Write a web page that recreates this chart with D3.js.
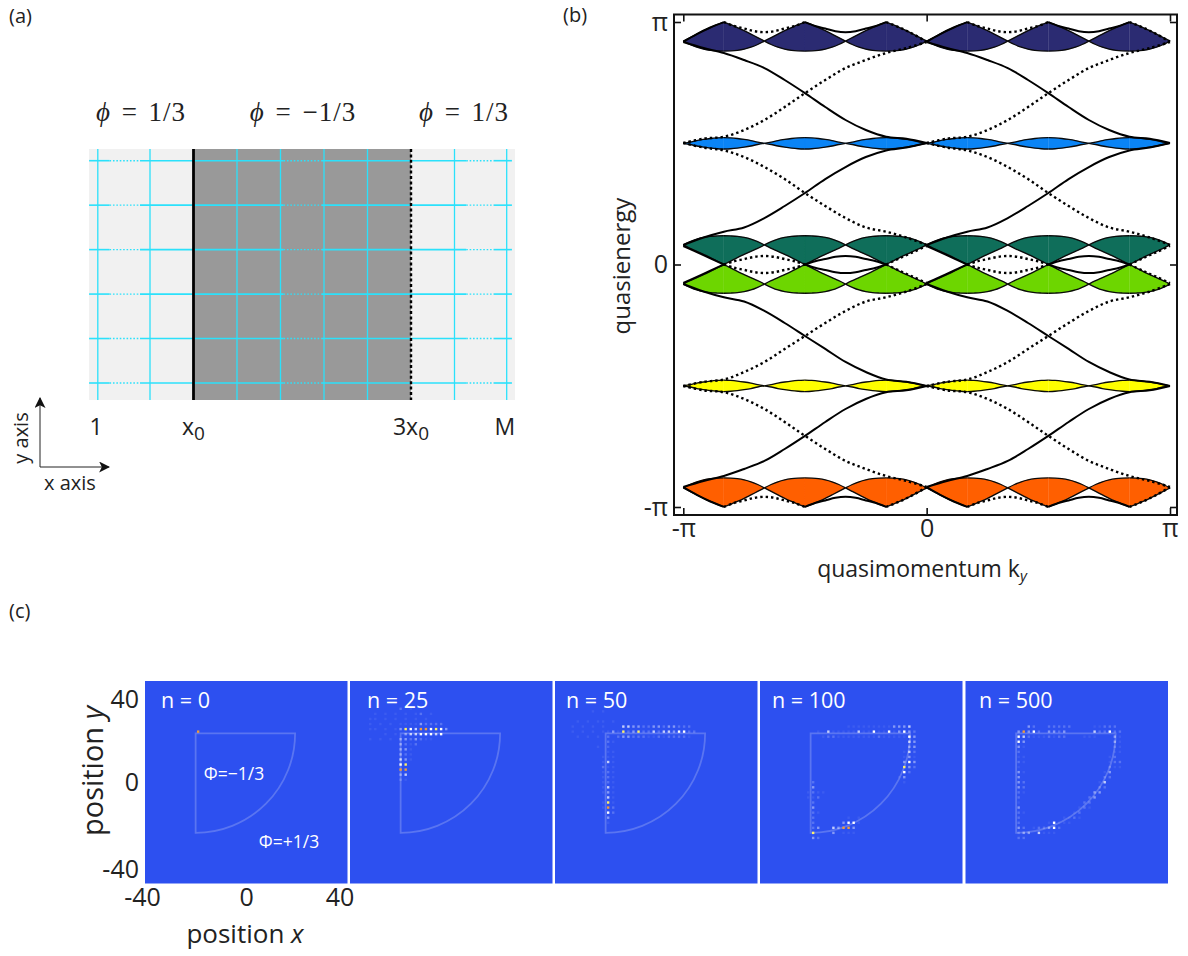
<!DOCTYPE html>
<html><head><meta charset="utf-8">
<script src="https://cdn.jsdelivr.net/npm/d3@7/dist/d3.min.js"></script>
<style>html,body{margin:0;padding:0;background:#fff}svg{display:block}
text{font-family:"Open Sans",sans-serif;fill:#222}</style></head><body>
<script>
// ---------- panel (b) data: energies ----------
const pi = Math.PI;
// half an arch of each band, node -> mid point of the period
const navyUpper=[2.895,2.94,2.985,3.03,3.07,3.107,3.14];
const navyLower=[2.895,2.85,2.815,2.79,2.775,2.768,2.765];
const blueUpper=[1.57,1.585,1.605,1.62,1.632,1.64,1.643];
const blueLower=[1.57,1.555,1.535,1.52,1.508,1.5,1.496];
const tealUpper=[0.253,0.295,0.33,0.352,0.365,0.37,0.372];
const tealLower=[0.253,0.21,0.17,0.13,0.09,0.045,0];
const limeUpper=[-0.253,-0.21,-0.17,-0.13,-0.09,-0.045,0];
const limeLower=[-0.253,-0.295,-0.33,-0.352,-0.365,-0.37,-0.372];
const yellowUpper=[-1.572,-1.557,-1.537,-1.522,-1.51,-1.502,-1.498];
const yellowLower=[-1.572,-1.587,-1.607,-1.622,-1.634,-1.642,-1.647];
const orangeUpper=[-2.895,-2.85,-2.815,-2.79,-2.775,-2.768,-2.765];
const orangeLower=[-2.895,-2.94,-2.985,-3.03,-3.07,-3.107,-3.14];
const bandColors=["#2b2b72","#0a84f5","#0f6e5a","#6dd600","#ffff00","#ff5f00"];
const bandUppers=[navyUpper,blueUpper,tealUpper,limeUpper,yellowUpper,orangeUpper];
const bandLowers=[navyLower,blueLower,tealLower,limeLower,yellowLower,orangeLower];
// edge modes on a half zone, -pi -> 0, 13 samples
const solidTopGap=[2.882,2.804,2.74,2.649,2.545,2.39,2.22,2.04,1.872,1.742,1.655,1.63,1.574];
const solidMidUp=[0.253,0.35,0.425,0.48,0.602,0.758,0.926,1.107,1.263,1.392,1.478,1.515,1.574];
const solidMidDown=[-0.253,-0.35,-0.425,-0.48,-0.602,-0.758,-0.926,-1.094,-1.263,-1.393,-1.49,-1.52,-1.574];
const solidBottomGap=[-2.882,-2.804,-2.74,-2.649,-2.545,-2.39,-2.22,-2.04,-1.872,-1.742,-1.655,-1.63,-1.574];
const dottedTopGap=[1.574,1.63,1.655,1.742,1.872,2.04,2.22,2.39,2.545,2.649,2.74,2.804,2.882];
const dottedMidUp=[1.574,1.515,1.478,1.392,1.263,1.107,0.926,0.758,0.602,0.48,0.425,0.35,0.253];
const dottedMidDown=[-1.574,-1.52,-1.49,-1.393,-1.263,-1.094,-0.926,-0.758,-0.602,-0.48,-0.425,-0.35,-0.253];
const dottedBottomGap=[-1.574,-1.63,-1.655,-1.742,-1.872,-2.04,-2.22,-2.39,-2.545,-2.649,-2.74,-2.804,-2.882];
// little arcs between two cusps, cusp -> middle
const arcTop=[3.14,3.09,3.057,3.023,3.01];
const arcUp=[0,0.042,0.07,0.099,0.11];
const arcDown=[0,-0.042,-0.07,-0.099,-0.11];
const arcBottom=[-3.14,-3.09,-3.057,-3.023,-3.01];
// modes hugging the cusp edges, node -> cusp
const hugTop=[2.885,2.985,3.07,3.14];
const hugTeal=[0.24,0.16,0.08,0];
const hugLime=[-0.24,-0.16,-0.08,0];
const hugBottom=[-2.885,-2.985,-3.07,-3.14];
const piTicks=[-pi,0,pi];
const kTickLabels=["-π","0","π"];
const eTickLabels=["-π","0","π"];

// ---------- panel (a) data ----------
const phiLabels=["1/3","−1/3","1/3"];
const latticeCols=[-2.2,-1,1,2,3,4,6,7.2];
const latticeRows=[0,1,2,3,4,5];
const dottedSpans=[[-1.93,-1.23],[2.07,2.95],[6.27,6.9]];
const solidSpans=[[-2.4,-1.93],[-1.23,2.07],[2.95,6.27],[6.9,7.32]];
const siteLabels=[[-2.24,"1",""],[0,"x","0"],[5,"3x","0"],[7.16,"M",""]];

// ---------- panel (c) data: [y, first x, levels along x in steps of 2] ----------
const panelNames=["n = 0","n = 25","n = 50","n = 100","n = 500"];
const panelLefts=[145,350,555,760,965.5];
const panelNameX=[161,367,566,772,979];
const n0=[[20,-19,"7"]];
const n25=[[29,-20,"2010"],[27,-30,"1010101012010"],[25,-32,"1101010101010"],[23,-32,"101010111"],[23,-14,"132222"],[21,-32,"110101"],[19,-26,"1010"],[17,-32,"10101"],
[21,-20,"3654775653"],[19,-18,"34455545"],[17,-20,"3323211"],[15,-20,"3212"],[13,-20,"331"],[11,-20,"321"],[9,-20,"431"],[7,-20,"56"],[5,-20,"77"],[3,-20,"34"],[1,-20,"21"]];
const n50=[[30,-19,"1"],[28,-25,"1010"],[24,-31,"10101"],[24,-21,"1010"],[22,-33,"1010101"],[20,-33,"1010101"],[18,-31,"10101"],[14,-23,"101"],
[22,-13,"44332233233222"],[20,-19,"131623622424435522"],[18,-19,"20233222112122221"],
[16,-21,"021"],[14,-21,"010"],[12,-21,"011"],[10,-21,"111"],[8,-21,"141"],[6,-21,"211"],[4,-21,"121"],[2,-21,"121"],[0,-21,"121"],[-2,-21,"141"],[-4,-21,"131"],[-6,-21,"041"],[-8,-21,"161"],[-10,-21,"172"],[-12,-21,"052"],[-14,-21,"030"],[-16,-21,"010"]];
const n100=[[22,-5,"1111111113334"],[20,-19,"010411111411511513532"],[18,-15,"1221111111121111153"],
[16,17,"043"],[14,17,"033"],[12,17,"142"],[10,17,"131"],[8,17,"353"],[6,17,"632"],[4,17,"52"],[2,15,"13"],[0,17,"1"],
[0,-21,"02"],[-2,-21,"03"],[-4,-21,"1211"],[-6,-21,"112"],[-8,-21,"02"],[-10,-21,"03"],[-12,-21,"021"],[-14,-21,"02"],[-16,-21,"02"],[-18,-21,"023"],[-20,-21,"06"],[-22,-21,"032"],
[-14,-5,"101"],[-16,-7,"3551"],[-18,-11,"43773"],[-20,-11,"30111"]];
const n500=[[22,-19,"00320022222000011222"],[20,-19,"373520332300000422522"],[18,-19,"542111212200011100031"],
[16,-19,"53"],[16,19,"31"],[14,-19,"31"],[14,19,"21"],[12,-19,"2"],[12,19,"11"],[10,-19,"11"],[10,17,"12"],[8,-19,"21"],[8,17,"122"],
[6,-19,"1"],[6,17,"211"],[4,-19,"31"],[4,15,"13"],[2,-19,"3"],[2,15,"22"],[0,-19,"32"],[0,13,"14"],[-2,-19,"32"],[-2,13,"22"],
[-4,-19,"21"],[-4,11,"33"],[-6,-19,"2"],[-6,9,"23"],[-8,-19,"1"],[-8,7,"22"],[-10,-19,"3"],[-10,5,"121"],[-12,-19,"21"],[-12,3,"12"],
[-14,-19,"2"],[-14,-1,"1121"],[-16,-19,"2"],[-16,-7,"15111"],[-18,-19,"32"],[-18,-13,"122352"],[-20,-19,"23304111"],[-22,-19,"22"]];
const panelRows=[n0,n25,n50,n100,n500];
const levelColors=["none","rgba(255,255,255,.07)","rgba(255,255,255,.2)","rgba(255,255,255,.42)","rgba(255,255,255,.72)","#ffffff","#fff06a","#ef9c3c"];
const posTicks=[-40,0,40];
const posTickLabels=["-40","0","40"];

// ---------- drawing ----------
const svg=d3.select("body").append("svg").attr("width",1188).attr("height",956);
const txt=(x,y,s,size,anchor)=>svg.append("text").attr("x",x).attr("y",y).attr("font-size",size).attr("text-anchor",anchor||"middle").text(s);
txt(9,23,"(a)",20,"start");txt(563,22,"(b)",20,"start");txt(9,618,"(c)",20,"start");

// panel (a)
const ax=d3.scaleLinear().domain([0,5]).range([193.5,411]);
const ay=d3.scalePoint().domain(latticeRows).range([160.7,383]);
const pa=svg.append("g");
pa.append("rect").attr("x",89).attr("y",149).attr("width",426).attr("height",251).attr("fill","#f1f1f1");
pa.append("rect").attr("x",ax(0)).attr("y",149).attr("width",ax(5)-ax(0)).attr("height",251).attr("fill","#999999");
const cyan="#2be1fb";
pa.selectAll(".vl").data(latticeCols).join("line").attr("x1",d=>ax(d)).attr("x2",d=>ax(d)).attr("y1",149).attr("y2",400).attr("stroke",cyan).attr("stroke-width",1.3);
latticeRows.forEach(r=>{
  pa.selectAll(null).data(solidSpans).join("line").attr("x1",d=>ax(d[0])).attr("x2",d=>ax(d[1])).attr("y1",ay(r)).attr("y2",ay(r)).attr("stroke",cyan).attr("stroke-width",1.6);
  pa.selectAll(null).data(dottedSpans).join("line").attr("x1",d=>ax(d[0])).attr("x2",d=>ax(d[1])).attr("y1",ay(r)).attr("y2",ay(r)).attr("stroke",cyan).attr("stroke-width",1.4).attr("stroke-dasharray","1.6 1.8");
});
pa.append("line").attr("x1",ax(0)).attr("x2",ax(0)).attr("y1",149).attr("y2",400).attr("stroke","#000").attr("stroke-width",2.8);
pa.append("line").attr("x1",ax(5)).attr("x2",ax(5)).attr("y1",149).attr("y2",400).attr("stroke","#000").attr("stroke-width",2.4).attr("stroke-dasharray","3 2.4");
[141,303,464].forEach((cx,i)=>{
  const t=svg.append("text").attr("x",cx).attr("y",121).attr("text-anchor","middle").attr("font-size",27).style("letter-spacing","1px").style("word-spacing","3px").style("font-family","'Liberation Serif',serif");
  t.append("tspan").attr("font-style","italic").text("ϕ");
  t.append("tspan").text(" = "+phiLabels[i]);
});
siteLabels.forEach(d=>{
  const t=svg.append("text").attr("x",ax(d[0])).attr("y",435).attr("text-anchor","middle").attr("font-size",23);
  t.append("tspan").text(d[1]);
  if(d[2])t.append("tspan").attr("dy",5).attr("font-size",19).text(d[2]);
});
const defs=svg.append("defs");
defs.append("marker").attr("id","ah").attr("viewBox","0 0 10 10").attr("refX",9).attr("refY",5).attr("markerWidth",11).attr("markerHeight",11).attr("markerUnits","userSpaceOnUse").attr("orient","auto")
  .append("path").attr("d","M0,0L10,5L0,10L2.5,5Z").attr("fill","#111");
svg.append("line").attr("x1",40).attr("y1",467).attr("x2",40).attr("y2",398).attr("stroke","#222").attr("stroke-width",1).attr("marker-end","url(#ah)");
svg.append("line").attr("x1",40).attr("y1",467).attr("x2",109).attr("y2",467).attr("stroke","#222").attr("stroke-width",1).attr("marker-end","url(#ah)");
svg.append("text").attr("transform","translate(28,438) rotate(-90)").attr("text-anchor","middle").attr("font-size",20).text("y axis");
txt(70,490,"x axis",20);

// panel (b)
const kx=d3.scaleLinear().domain([-pi,pi]).range([683.3,1170]);
const ey=d3.scaleLinear().domain([-pi,pi]).range([507,22]);
const box={l:674,r:1177,t:14.5,b:515};
const pb=svg.append("g");
const halfK=pi/6;
bandColors.forEach((col,bi)=>{
  const up=bandUppers[bi],lo=bandLowers[bi],n=up.length-1;
  for(let s=0;s<12;s++){
    const pts=d3.range(n+1).map(i=>{
      const j=s%2===0?i:n-i;
      return {k:-pi+s*halfK+i/n*halfK,u:up[j],l:lo[j]};
    });
    pb.append("path").datum(pts).attr("d",d3.area().x(d=>kx(d.k)).y0(d=>ey(d.l)).y1(d=>ey(d.u)).curve(d3.curveMonotoneX)).attr("fill",col).attr("stroke",col).attr("stroke-width",.3);
    [d=>ey(d.u),d=>ey(d.l)].forEach(fy=>{
      pb.append("path").datum(pts).attr("d",d3.line().x(d=>kx(d.k)).y(fy).curve(d3.curveMonotoneX)).attr("fill","none").attr("stroke","#0a0a0a").attr("stroke-width",1.35);
    });
  }
});
const solidStyle=p=>p.attr("fill","none").attr("stroke","#000").attr("stroke-width",2);
const dottedStyle=p=>p.attr("fill","none").attr("stroke","#000").attr("stroke-width",2.4).attr("stroke-dasharray","2.4 3");
const curve=(vals,k0,k1,style,ctype)=>{
  const n=vals.length-1;
  const pts=vals.map((v,i)=>[kx(k0+(k1-k0)*i/n),ey(v)]);
  style(pb.append("path").attr("d",d3.line().curve(ctype||d3.curveCatmullRom)(pts)));
};
[-pi,0].forEach(off=>{
  [solidTopGap,solidMidUp,solidMidDown,solidBottomGap].forEach(v=>curve(v,off,off+pi,solidStyle));
  [dottedTopGap,dottedMidUp,dottedMidDown,dottedBottomGap].forEach(v=>curve(v,off,off+pi,dottedStyle));
  [arcTop,arcUp,arcDown,arcBottom].forEach(a=>{
    const whole=a.concat(a.slice(0,-1).reverse());
    curve(whole,off+halfK,off+3*halfK,dottedStyle);
    curve(whole,off+3*halfK,off+5*halfK,solidStyle);
  });
  [hugTop,hugTeal,hugLime,hugBottom].forEach(v=>{
    curve(v,off,off+halfK,solidStyle);
    curve(v.slice().reverse(),off+5*halfK,off+6*halfK,dottedStyle);
  });
});
pb.append("rect").attr("x",box.l).attr("y",box.t).attr("width",box.r-box.l).attr("height",box.b-box.t).attr("fill","none").attr("stroke","#111").attr("stroke-width",2);
const styleAxis=g=>{g.select(".domain").remove();g.selectAll("line").attr("stroke","#111").attr("stroke-width",1.6);g.selectAll("text").attr("font-size",25).attr("fill","#222");};
pb.append("g").attr("transform",`translate(0,${box.b})`).call(d3.axisBottom(kx).tickValues(piTicks).tickSizeInner(-7).tickSizeOuter(0).tickPadding(4).tickFormat((d,i)=>kTickLabels[i])).call(styleAxis);
pb.append("g").attr("transform",`translate(0,${box.t})`).call(d3.axisTop(kx).tickValues(piTicks).tickSizeInner(-7).tickSizeOuter(0).tickFormat("")).call(styleAxis);
pb.append("g").attr("transform",`translate(${box.l},0)`).call(d3.axisLeft(ey).tickValues(piTicks).tickSizeInner(-7).tickSizeOuter(0).tickPadding(6).tickFormat((d,i)=>eTickLabels[i])).call(styleAxis);
pb.append("g").attr("transform",`translate(${box.r},0)`).call(d3.axisRight(ey).tickValues(piTicks).tickSizeInner(-7).tickSizeOuter(0).tickFormat("")).call(styleAxis);
const kl=txt(922,577,"quasimomentum k",23);
kl.append("tspan").attr("dy",4).attr("font-size",15).attr("font-style","italic").text("y");
svg.append("text").attr("transform","translate(630,266) rotate(-90)").attr("text-anchor","middle").attr("font-size",24).text("quasienergy");

// panel (c)
const panelSize=202.5,panelTop=681;
const py=d3.scaleLinear().domain([40,-40]).range([panelTop,panelTop+panelSize]);
panelRows.forEach((rows,pi_)=>{
  const left=panelLefts[pi_];
  const px=d3.scaleLinear().domain([-40,40]).range([left,left+panelSize]);
  const g=svg.append("g");
  g.append("rect").attr("x",left).attr("y",panelTop).attr("width",panelSize).attr("height",panelSize).attr("fill","#2d50f0");
  const c=d3.path(),cx=px(-20),cy=py(19.3),rr=px(19.3)-px(-20);
  c.moveTo(cx,cy);c.lineTo(cx+rr,cy);c.arc(cx,cy,rr,0,pi/2);c.closePath();
  g.append("path").attr("d",c.toString()).attr("fill","none").attr("stroke","#5a75f1").attr("stroke-width",1.8);
  const cells=[];
  rows.forEach(([y,x0,ds])=>{ds.split("").forEach((ch,i)=>{if(ch!=="0")cells.push({x:x0+2*i,y,l:+ch});});});
  g.selectAll(".c").data(cells).join("rect").attr("x",d=>px(d.x)-1.2).attr("y",d=>py(d.y)-1.2).attr("width",2.4).attr("height",2.4).attr("fill",d=>levelColors[d.l]);
  g.append("text").attr("x",panelNameX[pi_]).attr("y",panelTop+27).attr("font-size",21.5).style("fill","#fff").text(panelNames[pi_]);
});
const ph=[[234,780,"Φ=−1/3"],[289,848,"Φ=+1/3"]];
ph.forEach(d=>svg.append("text").attr("x",d[0]).attr("y",d[1]).attr("text-anchor","middle").attr("font-size",17.5).style("fill","#fff").text(d[2]));
const cxs=d3.scaleLinear().domain([-40,40]).range([145,145+panelSize]);
const sy=g=>{g.select(".domain").remove();g.selectAll("line").remove();g.selectAll("text").attr("font-size",25).attr("fill","#222");};
svg.append("g").attr("transform","translate(139,0)").call(d3.axisLeft(py).tickValues(posTicks).tickSize(0).tickPadding(0).tickFormat((d,i)=>posTickLabels[i])).call(sy)
  .selectAll("text").attr("dy",d=>d===40?"1.05em":d===-40?"-.25em":".32em");
svg.append("g").attr("transform","translate(0,888)").call(d3.axisBottom(cxs).tickValues(posTicks).tickSize(0).tickPadding(0).tickFormat((d,i)=>posTickLabels[i])).call(sy)
  .selectAll("text").attr("dx",d=>d===40?"-8":d===-40?"-3":"0");
const xl=txt(245,943,"position ",26);xl.append("tspan").attr("font-style","italic").text("x");
const yl=svg.append("text").attr("transform","translate(103,771) rotate(-90)").attr("text-anchor","middle").attr("font-size",29).text("position ");
yl.append("tspan").attr("font-style","italic").text("y");
</script></body></html>
